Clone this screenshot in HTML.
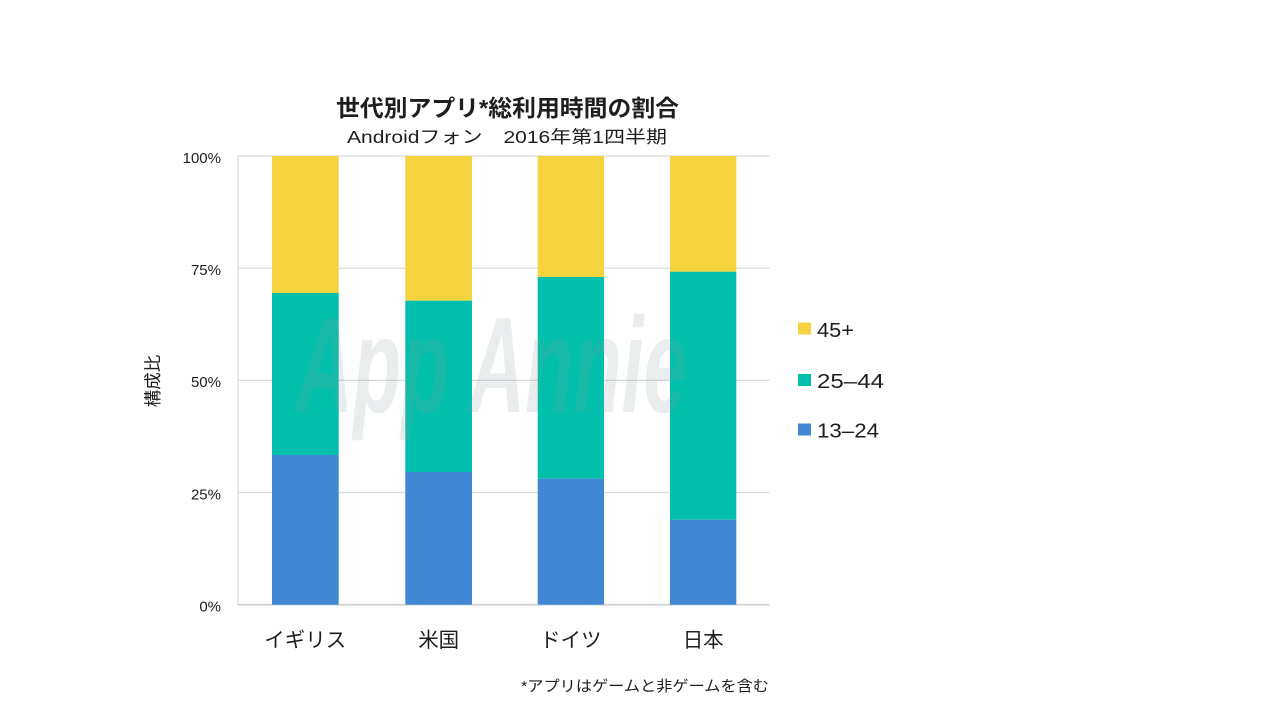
<!DOCTYPE html>
<html>
<head>
<meta charset="utf-8">
<style>
  html,body{margin:0;padding:0;background:#fff;}
  svg{display:block;}
  text{font-family:"Liberation Sans","Noto Sans CJK JP",sans-serif;fill:#1e1e1e;}
</style>
</head>
<body>
<svg width="1280" height="720" viewBox="0 0 1280 720" xmlns="http://www.w3.org/2000/svg">
  <rect x="0" y="0" width="1280" height="720" fill="#ffffff"/>

  <!-- Title -->
  <text x="507.5" y="116" text-anchor="middle" font-size="23" font-weight="bold" textLength="343" lengthAdjust="spacingAndGlyphs">世代別アプリ*総利用時間の割合</text>
  <text x="507" y="143" text-anchor="middle" font-size="17.5" textLength="320" lengthAdjust="spacingAndGlyphs">Androidフォン　2016年第1四半期</text>

  <!-- gridlines -->
  <g stroke="#d9d9d9" stroke-width="1.2">
    <line x1="238" y1="156" x2="769.5" y2="156"/>
    <line x1="238" y1="268.2" x2="769.5" y2="268.2"/>
    <line x1="238" y1="380.4" x2="769.5" y2="380.4"/>
    <line x1="238" y1="492.5" x2="769.5" y2="492.5"/>
    <line x1="238" y1="156" x2="238" y2="604.7"/>
  </g>
  <line x1="238" y1="604.7" x2="769.5" y2="604.7" stroke="#cfcfcf" stroke-width="1.6"/>

  <!-- Bars -->
  <rect x="272" y="156" width="66.7" height="137" fill="#F5D33F"/>
  <rect x="272" y="293" width="66.7" height="162" fill="#00BFAD"/>
  <rect x="272" y="455" width="66.7" height="149.7" fill="#4088D3"/>

  <rect x="405.3" y="156" width="66.7" height="144.7" fill="#F5D33F"/>
  <rect x="405.3" y="300.7" width="66.7" height="171.3" fill="#00BFAD"/>
  <rect x="405.3" y="472" width="66.7" height="132.7" fill="#4088D3"/>

  <rect x="537.7" y="156" width="66.3" height="121" fill="#F5D33F"/>
  <rect x="537.7" y="277" width="66.3" height="201.7" fill="#00BFAD"/>
  <rect x="537.7" y="478.7" width="66.3" height="126" fill="#4088D3"/>

  <rect x="670" y="156" width="66.3" height="115.7" fill="#F5D33F"/>
  <rect x="670" y="271.7" width="66.3" height="248" fill="#00BFAD"/>
  <rect x="670" y="519.7" width="66.3" height="85" fill="#4088D3"/>

  <!-- Watermark -->
  <g transform="translate(296,412) scale(0.58,1)">
    <text x="0" y="0" font-size="136" font-style="italic" font-weight="bold" style="fill:#8a9a9a" fill-opacity="0.18">App Annie</text>
  </g>

  <!-- Y tick labels -->
  <g font-size="15" text-anchor="end">
    <text x="221" y="163">100%</text>
    <text x="221" y="275">75%</text>
    <text x="221" y="387">50%</text>
    <text x="221" y="499.5">25%</text>
    <text x="221" y="611.5">0%</text>
  </g>

  <!-- Y axis label -->
  <text transform="translate(159,381) rotate(-90)" text-anchor="middle" font-size="17.5">構成比</text>

  <!-- Category labels -->
  <g font-size="20.5" text-anchor="middle">
    <text x="305.3" y="647">イギリス</text>
    <text x="438.7" y="647">米国</text>
    <text x="570.8" y="647">ドイツ</text>
    <text x="703.2" y="647">日本</text>
  </g>

  <!-- Legend -->
  <rect x="798" y="322.5" width="13" height="12" fill="#F5D33F"/>
  <text x="817" y="337" font-size="20" textLength="37" lengthAdjust="spacingAndGlyphs">45+</text>
  <rect x="798" y="374" width="13" height="12" fill="#00BFAD"/>
  <text x="817" y="388" font-size="20" textLength="67" lengthAdjust="spacingAndGlyphs">25–44</text>
  <rect x="798" y="423.5" width="13" height="12" fill="#4088D3"/>
  <text x="817" y="437.5" font-size="20" textLength="62" lengthAdjust="spacingAndGlyphs">13–24</text>

  <!-- Footnote -->
  <text x="769" y="691" text-anchor="end" font-size="15" textLength="248" lengthAdjust="spacingAndGlyphs">*アプリはゲームと非ゲームを含む</text>
</svg>
</body>
</html>
